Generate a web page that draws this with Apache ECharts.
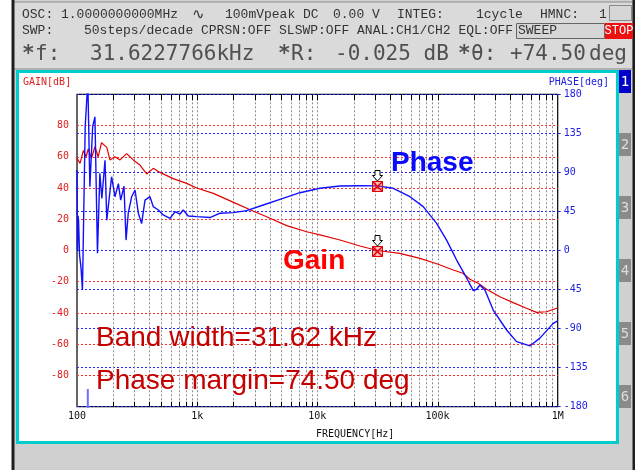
<!DOCTYPE html>
<html><head><meta charset="utf-8">
<script src="https://cdn.jsdelivr.net/npm/echarts@6/dist/echarts.min.js"></script>
<style>html,body{margin:0;padding:0;background:#fff}#c{width:638px;height:470px}</style>
</head><body><div id="c"></div>
<script>
// ---- data ----
const freqTicks = [100, 1000, 10000, 100000, 1000000];
const freqTickLabels = ['100', '1k', '10k', '100k', '1M'];
const gridFreqs = [200,300,400,500,600,700,800,900,1000,
  2000,3000,4000,5000,6000,7000,8000,9000,10000,
  20000,30000,40000,50000,60000,70000,80000,90000,100000,
  200000,300000,400000,500000,600000,700000,800000,900000];

const gainFreq = [100,106,113,119,124,132,141,150,160,177,188,207,228,259,294,334,380,431,490,632,818,991,
  1362,1986,2912,3784,5555,8150,10510,15420,22600,31623,48600,71400,98400,135300,162500,186000,218000,
  256000,330000,426000,550000,667000,808000,979000,1000000];
const gainDb = [59,55.8,64,60,65,59,66.4,60,69,66,58,60,58,62,58,54.7,49,52.6,50,46,43,40,
  36.6,31,25.3,21.6,15.9,12,10,6.7,2.9,0,-1.8,-5,-8.5,-12.5,-14.6,-18.4,-21,
  -24.8,-29.6,-33.4,-37,-39.6,-39.2,-37,-36.6];

const phaseFreq = [100,101,102,103,105,108,111,117,123,128,135,141,148,155,161,171,177,194,207,221,231,246,256,267,285,304,324,345,368,405,431,475,522,594,654,719,766,843,990,
  1278,1548,1997,2581,3547,4886,7165,10510,15420,22620,31623,42800,58930,76040,98300,119000,144200,169000,198200,211500,225300,248000,290700,375700,455000,587000,711000,917700,1000000];
const phaseDeg = [92.8,0,40,35,-5,-20,-45.5,142.7,195,73.5,142.7,154,-3.2,89,60,104,35,85,62,77,58,74,12,43,62,69.7,43,31,58,62,50.5,46.7,41,37,44.7,42,46.7,39.8,39,
  38,43,43.6,45.9,52.4,59,66.6,71.7,74.3,74.7,74.5,71.7,62,50.5,31.3,12,-11,-28,-46.3,-44.7,-39.8,-45.5,-68.6,-91.6,-105,-110,-101,-84,-81];

const wrapFreq = [123, 123];
const wrapDeg = [-159.6, -185];

const markerFreq = 31622.7766;
const markerGain = -0.025;
const markerPhase = 74.5;

// ---- chart ----
const zip = (a, b) => a.map((v, i) => [v, b[i]]);
const chart = echarts.init(document.getElementById('c'));
const mono = 'Liberation Mono';
const sans = 'Liberation Sans';
const dmono = 'DejaVu Sans Mono';

function gridItem(params, api) {
  const f = api.value(0);
  const t = api.coord([f, 100]);
  const b = api.coord([f, -100]);
  const x = Math.round(t[0]) + 0.5;
  return {type: 'group', children: [
    {type: 'line', shape: {x1: x, y1: t[1], x2: x, y2: b[1]}, style: {stroke: '#8c8c8c', lineWidth: 1, lineDash: [2, 2]}},
    {type: 'line', shape: {x1: x, y1: b[1], x2: x, y2: b[1] - 5}, style: {stroke: '#000', lineWidth: 1}},
    {type: 'line', shape: {x1: x, y1: t[1], x2: x, y2: t[1] + 6}, style: {stroke: '#000', lineWidth: 1}}
  ]};
}
function markerItem(params, api) {
  const p = api.coord([api.value(0), api.value(1)]);
  const x = Math.round(p[0]) + 0.5, y = Math.round(p[1]) + 0.5;
  return {type: 'group', children: [
    {type: 'rect', shape: {x: x - 5, y: y - 5, width: 10, height: 10}, style: {fill: 'rgba(255,60,60,0.35)', stroke: '#e00000', lineWidth: 1}},
    {type: 'line', shape: {x1: x - 5, y1: y - 5, x2: x + 5, y2: y + 5}, style: {stroke: '#e00000', lineWidth: 1.5}},
    {type: 'line', shape: {x1: x + 5, y1: y - 5, x2: x - 5, y2: y + 5}, style: {stroke: '#e00000', lineWidth: 1.5}},
    {type: 'polygon', shape: {points: [[x - 2.5, y - 16], [x + 2.5, y - 16], [x + 2.5, y - 11], [x + 5, y - 11], [x, y - 5.5], [x - 5, y - 11], [x - 2.5, y - 11]]},
      style: {fill: '#fff', stroke: '#000', lineWidth: 1}}
  ]};
}

const T = (text, x, y, o) => Object.assign({type: 'text', z: 100, x: x, y: y,
  style: Object.assign({text: text, font: '13px ' + mono, fill: '#333', textVerticalAlign: 'middle'}, o || {})});
const R = (x, y, w, h, fill, stroke, lw, z) => ({type: 'rect', z: z == null ? -10 : z,
  shape: {x: x, y: y, width: w, height: h}, style: {fill: fill, stroke: stroke || null, lineWidth: lw || 1}});
const big = {font: '21px ' + dmono, fill: '#505050'};
const bigStar = {font: 'bold 21px ' + dmono, fill: '#505050'};

const graphics = [
  R(13, 0, 621, 470, '#d0d0d0'),
  R(13, 2, 620, 67, '#dadada', '#8a8a8a', 1),
  R(11.5, 0, 3, 470, '#1e1e1e'),
  R(632.5, 0, 2.5, 470, '#1e1e1e'),
  R(17.5, 71.5, 600, 371, '#ffffff', '#00cccc', 3),
  R(609.5, 5.5, 22, 15, '#d6d6d6', '#888', 1),
  R(516.5, 23.5, 88, 15, '#d6d6d6', '#666', 1),
  R(605, 23, 28, 16, '#ee1111', null, 1),
  // tabs
  R(619, 70, 12, 23, '#0000c8'),
  R(619, 133, 12, 23, '#8a8a8a'),
  R(619, 196, 12, 23, '#8a8a8a'),
  R(619, 259, 12, 23, '#8a8a8a'),
  R(619, 322, 12, 23, '#8a8a8a'),
  R(619, 385, 12, 23, '#8a8a8a'),
  T('1', 625, 82, {fill: '#fff', textAlign: 'center', font: '14px ' + dmono}),
  T('2', 625, 145, {fill: '#dedede', textAlign: 'center', font: '14px ' + dmono}),
  T('3', 625, 208, {fill: '#dedede', textAlign: 'center', font: '14px ' + dmono}),
  T('4', 625, 271, {fill: '#dedede', textAlign: 'center', font: '14px ' + dmono}),
  T('5', 625, 334, {fill: '#dedede', textAlign: 'center', font: '14px ' + dmono}),
  T('6', 625, 397, {fill: '#dedede', textAlign: 'center', font: '14px ' + dmono}),
  // header line 1
  T('OSC:', 22, 15), T('1.0000000000MHz', 61, 15), T('\u223F', 192, 15, {font: '15px DejaVu Sans'}),
  T('100mVpeak DC', 225, 15), T('0.00 V', 333, 15), T('INTEG:', 397, 15), T('1cycle', 476, 15),
  T('HMNC:', 540, 15), T('1', 599, 15),
  // header line 2
  T('SWP:', 22, 31), T('50steps/decade CPRSN:OFF SLSWP:OFF ANAL:CH1/CH2 EQL:OFF', 84, 31),
  T('SWEEP', 518, 31), T('STOP', 619, 31, {fill: '#fff', font: '12px ' + mono, textAlign: 'center'}),
  // header line 3
  T('*', 22, 55, bigStar), T('f:', 35, 55, big),
  T('31.6227766kHz', 90, 55, big),
  T('*', 278, 55, bigStar), T('R:', 291, 55, big),
  T('-0.025 dB', 335, 55, big),
  T('*', 458, 55, bigStar), T('\u03B8:', 471, 55, big),
  T('+74.50', 510, 55, big),
  T('deg', 589, 55, big),
  // axis titles
  T('GAIN[dB]', 23, 82, {font: '10px ' + dmono, fill: '#e02020'}),
  T('PHASE[deg]', 609, 82, {font: '10px ' + dmono, fill: '#2020e0', textAlign: 'right'}),
  T('FREQUENCY[Hz]', 316, 434, {font: '10px ' + dmono, fill: '#111'}),
  // annotations
  T('Phase', 391, 163, {font: 'bold 28px ' + sans, fill: '#0a0aff'}),
  T('Gain', 283, 261, {font: 'bold 28px ' + sans, fill: '#ff0000'}),
  T('Band width=31.62 kHz', 96, 338, {font: '28px ' + sans, fill: '#c40000'}),
  T('Phase margin=74.50 deg', 96, 381, {font: '28px ' + sans, fill: '#c40000'})
];

chart.setOption({
  animation: false,
  backgroundColor: '#ffffff',
  graphic: {elements: graphics},
  grid: {left: 77, right: 80.3, top: 94.3, bottom: 63.3, show: true, backgroundColor: '#fff',
    borderColor: '#000', borderWidth: 1.2},
  xAxis: {type: 'log', logBase: 10, min: 100, max: 1000000,
    axisLine: {show: false}, axisTick: {show: false}, splitLine: {show: false}, minorTick: {show: false},
    axisLabel: {color: '#111', fontFamily: dmono, fontSize: 10, margin: 5,
      showMinLabel: true, showMaxLabel: true,
      formatter: v => freqTickLabels[Math.round(Math.log10(v)) - 2] || ''}},
  yAxis: [
    {type: 'value', min: -100, max: 100, interval: 20, position: 'left',
      axisLine: {show: false}, axisTick: {show: false},
      splitLine: {show: true, lineStyle: {color: '#ff3030', type: [2, 2], width: 1}},
      axisLabel: {color: '#e02020', fontFamily: dmono, fontSize: 10, margin: 8,
        formatter: v => (Math.abs(v) >= 100 ? '' : String(v))}},
    {type: 'value', min: -180, max: 180, interval: 45, position: 'right',
      axisLine: {show: false}, axisTick: {show: true, length: 3, lineStyle: {color: '#2020e0'}},
      splitLine: {show: true, lineStyle: {color: '#2525ff', type: [2, 2], width: 1}},
      axisLabel: {color: '#2020e0', fontFamily: dmono, fontSize: 10, margin: 6}}
  ],
  series: [
    {type: 'custom', name: 'vgrid', xAxisIndex: 0, yAxisIndex: 0, z: 1, silent: true,
      renderItem: gridItem, data: gridFreqs.map(f => [f, 0])},
    {type: 'line', name: 'Gain', yAxisIndex: 0, data: zip(gainFreq, gainDb), showSymbol: false, clip: true,
      lineStyle: {color: '#e00000', width: 1.2}, z: 3},
    {type: 'line', name: 'Phase', yAxisIndex: 1, data: zip(phaseFreq, phaseDeg), showSymbol: false, clip: true,
      lineStyle: {color: '#1010ff', width: 1.4}, z: 4},
    {type: 'line', name: 'PhaseWrap', yAxisIndex: 1, data: zip(wrapFreq, wrapDeg), showSymbol: false, clip: true,
      lineStyle: {color: '#6f6fff', width: 2}, z: 4},
    {type: 'custom', name: 'mkGain', yAxisIndex: 0, z: 6, renderItem: markerItem, data: [[markerFreq, markerGain]]},
    {type: 'custom', name: 'mkPhase', yAxisIndex: 1, z: 6, renderItem: markerItem, data: [[markerFreq, markerPhase]]}
  ]
});
</script>
</body></html>
